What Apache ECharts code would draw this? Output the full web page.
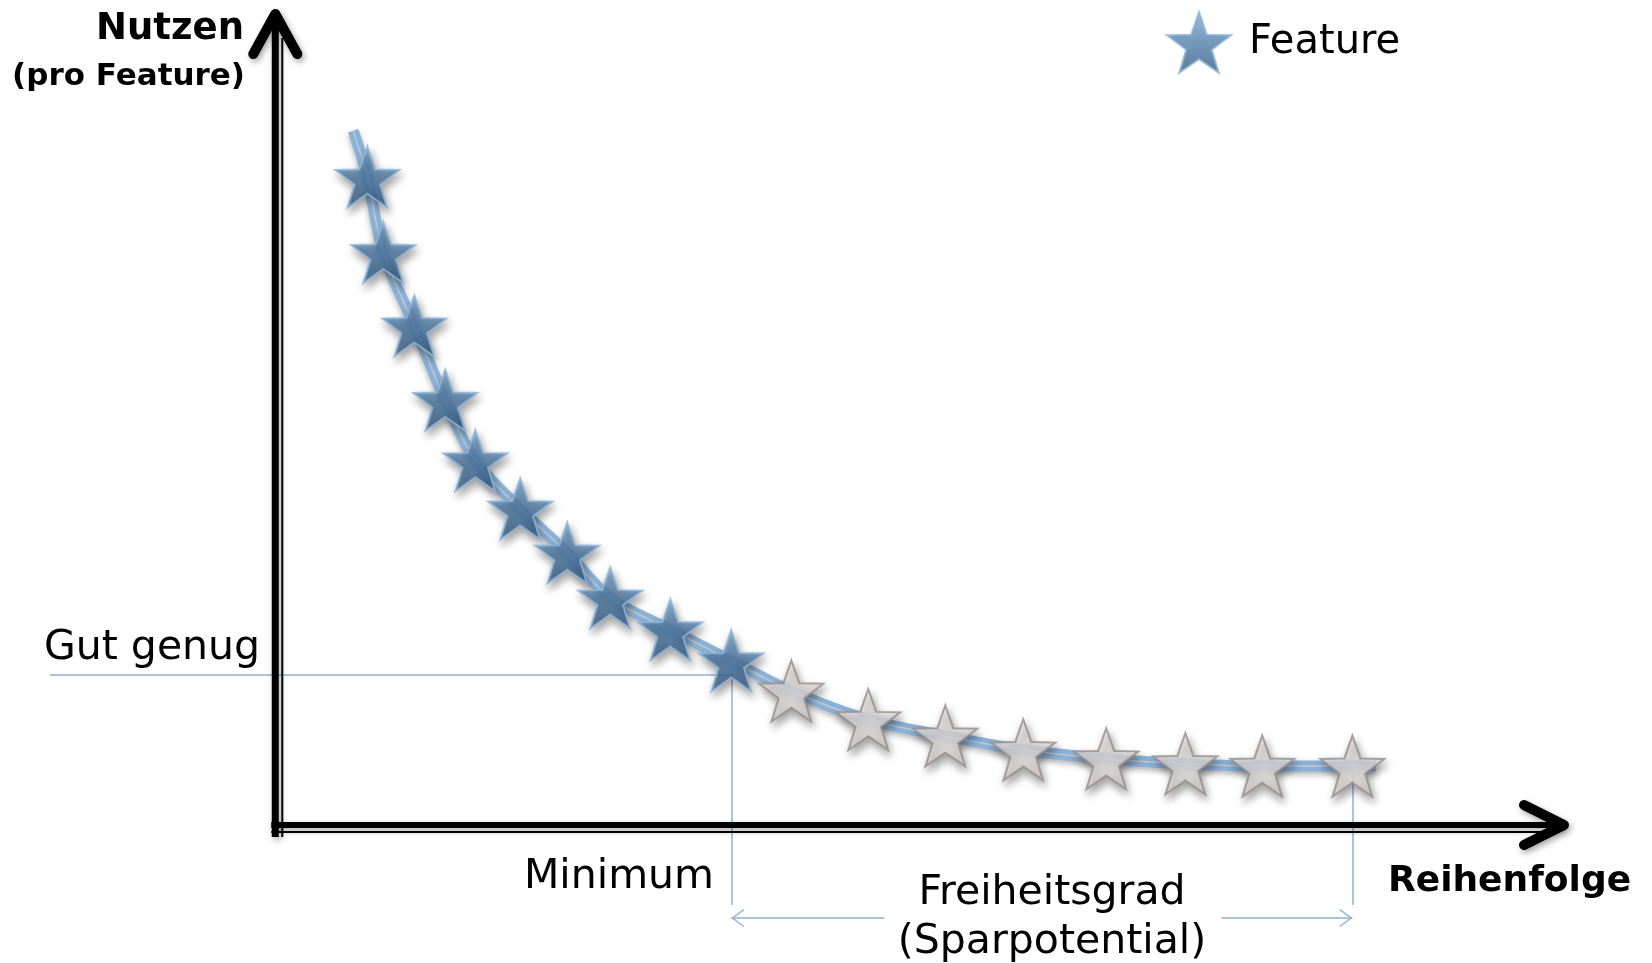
<!DOCTYPE html>
<html><head><meta charset="utf-8">
<script src="https://cdn.jsdelivr.net/npm/echarts@6/dist/echarts.min.js"></script>
<style>html,body{margin:0;padding:0;background:#fff}#c{width:1652px;height:963px}</style>
</head><body><div id="c"></div>
<script>
// ---------- data ----------
const featureX  = [7.11, 8.34, 10.74, 13.13, 15.45, 18.92, 22.55, 25.87, 30.51, 35.22];
const featureY  = [79.3, 70.1, 61.1, 52.0, 44.6, 38.7, 33.3, 27.8, 23.9, 20.1];
const optionalX = [39.86, 45.80, 51.75, 57.77, 64.18, 70.29, 76.23, 83.19];
const optionalY = [16.4, 12.9, 10.9, 9.2, 8.1, 7.5, 7.2, 7.2];
const curveStart = [6.02, 84.96];
const curveEnd   = [85.0, 7.2];
const gutGenugLevel = 18.4;
const guideBottom = -9.8;
const spanLevel = -11.4;
const spanGap = [47.04, 73.07];
const X_MIN = -17.4, X_MAX = 100, Y_MIN = -16.9, Y_MAX = 100;

const FONT = '"DejaVu Sans", "Liberation Sans", sans-serif';
const STAR = 'path://M50,0L61.76,33.82L97.55,34.55L69.02,56.18L79.39,90.45L50,70L20.61,90.45L30.98,56.18L2.45,34.55L38.24,33.82Z';
const ARROW = 'path://M10,0L20,14L18.8,15L10,2.6L1.2,15L0,14Z';

const featurePts  = featureX.map((x, i) => [x, featureY[i]]);
const optionalPts = optionalX.map((x, i) => [x, optionalY[i]]);
const curvePts = [curveStart].concat(featurePts, optionalPts, [curveEnd]);
const lastF = featurePts[featurePts.length - 1];
const lastO = optionalPts[optionalPts.length - 1];

const chart = echarts.init(document.getElementById('c'), null, {renderer: 'canvas'});
const guideStyle = {color: '#8fb2d3', width: 1.5, type: 'solid'};
const starShadow = {shadowBlur: 9, shadowColor: 'rgba(0,0,0,0.45)', shadowOffsetX: 2, shadowOffsetY: 5};

chart.setOption({
  animation: false,
  backgroundColor: '#fff',
  grid: {left: 50, right: 82, top: 8, bottom: 0},
  xAxis: {type: 'value', min: X_MIN, max: X_MAX, show: false},
  yAxis: {type: 'value', min: Y_MIN, max: Y_MAX, show: false},
  legend: {
    data: ['Feature'], left: 1161, top: 6, icon: STAR, itemWidth: 64, itemHeight: 61,
    textStyle: {fontFamily: FONT, fontSize: 40, color: '#000', padding: [0, 0, 0, 13]},
    selectedMode: false
  },
  series: [
    {
      name: 'Kurve', type: 'line', data: curvePts, smooth: 0.35, symbol: 'none', z: 2, silent: true,
      lineStyle: {color: '#8ab2d8', width: 11, shadowBlur: 6, shadowColor: 'rgba(0,0,0,0.3)', shadowOffsetY: 3},
      markLine: {
        silent: true, symbol: 'none', label: {show: false}, lineStyle: guideStyle, animation: false,
        data: [
          [{coord: [X_MIN, gutGenugLevel]}, {coord: [lastF[0], gutGenugLevel]}],
          [{coord: [lastF[0], lastF[1]]}, {coord: [lastF[0], guideBottom]}],
          [{coord: [lastO[0], lastO[1]]}, {coord: [lastO[0], guideBottom]}]
        ]
      }
    },
    {
      name: 'Kurve2', type: 'line', data: curvePts, smooth: 0.35, symbol: 'none', z: 2, silent: true,
      lineStyle: {color: '#c3c8ce', width: 1.5},
      markLine: {
        silent: true, label: {show: false}, lineStyle: guideStyle, animation: false,
        symbolSize: [18, 13],
        data: [
          [{coord: [lastF[0], spanLevel], symbol: ARROW, symbolOffset: [0, 6.5]}, {coord: [spanGap[0], spanLevel], symbol: 'none'}],
          [{coord: [spanGap[1], spanLevel], symbol: 'none'}, {coord: [lastO[0], spanLevel], symbol: ARROW, symbolOffset: [0, 6.5]}]
        ]
      }
    },
    {
      name: 'Feature', type: 'scatter', data: featurePts, symbol: STAR, symbolSize: [64, 61], z: 5,
      itemStyle: Object.assign({
        color: {type: 'linear', x: 0, y: 0, x2: 0, y2: 1, colorStops: [
          {offset: 0, color: '#84acd2'}, {offset: 0.45, color: '#5682ad'}, {offset: 1, color: '#335b84'}]},
        borderColor: '#8db5db', borderWidth: 2
      }, starShadow),
      emphasis: {disabled: true}
    },
    {
      name: 'Optional', type: 'scatter', data: optionalPts, symbol: STAR, symbolSize: [64, 61], z: 5,
      itemStyle: Object.assign({
        color: {type: 'linear', x: 0, y: 0, x2: 0, y2: 1, colorStops: [
          {offset: 0, color: '#f3f0f0'}, {offset: 1, color: '#ddd8d8'}]},
        borderColor: '#978c8c', borderWidth: 2
      }, starShadow),
      emphasis: {disabled: true}
    }
  ]
});

// ---------- axes (drawn from the grid's own scale) ----------
const O = chart.convertToPixel({gridIndex: 0}, [0, 0]);
const T = chart.convertToPixel({gridIndex: 0}, [0, Y_MAX]);
const R = chart.convertToPixel({gridIndex: 0}, [X_MAX, 0]);
const sh = {shadowBlur: 6, shadowColor: 'rgba(0,0,0,0.35)', shadowOffsetX: 2, shadowOffsetY: 3};
const txt = (text, x, y, font, align) => ({type: 'text', x, y, z: 100,
  style: {text, font, fill: '#000', align: align || 'left', verticalAlign: 'middle'}});

chart.setOption({
  graphic: [
    {type: 'line', z: 90, shape: {x1: O[0], y1: T[1] + 10, x2: O[0], y2: O[1] + 12}, style: Object.assign({stroke: '#000', lineWidth: 7}, sh)},
    {type: 'line', z: 90, shape: {x1: O[0] + 7, y1: T[1] + 30, x2: O[0] + 7, y2: O[1] + 12}, style: {stroke: '#000', lineWidth: 2}},
    {type: 'line', z: 90, shape: {x1: O[0] - 4, y1: O[1], x2: R[0] - 8, y2: O[1]}, style: Object.assign({stroke: '#000', lineWidth: 6}, sh)},
    {type: 'line', z: 90, shape: {x1: O[0] - 4, y1: O[1] + 7, x2: R[0] - 28, y2: O[1] + 7}, style: {stroke: '#000', lineWidth: 2}},
    {type: 'polyline', z: 91, shape: {points: [[O[0] - 22, T[1] + 46], [O[0], T[1] + 6], [O[0] + 22, T[1] + 46]]},
      style: Object.assign({stroke: '#000', fill: null, lineWidth: 10, lineCap: 'round', lineJoin: 'round'}, sh)},
    {type: 'polyline', z: 91, shape: {points: [[R[0] - 46, O[1] - 20], [R[0] - 6, O[1]], [R[0] - 46, O[1] + 20]]},
      style: Object.assign({stroke: '#000', fill: null, lineWidth: 10, lineCap: 'round', lineJoin: 'round'}, sh)},
    txt('Nutzen', 244, 29, 'bold 37px ' + FONT, 'right'),
    txt('(pro Feature)', 245, 77, 'bold 31px ' + FONT, 'right'),
    txt('Gut genug', 44, 648, '41px ' + FONT),
    txt('Minimum', 524, 877, '41px ' + FONT),
    txt('Reihenfolge', 1388, 882, 'bold 36px ' + FONT),
    txt('Freiheitsgrad', 1052, 893, '41px ' + FONT, 'center'),
    txt('(Sparpotential)', 1052, 942, '41px ' + FONT, 'center')
  ]
});
</script>
</body></html>
